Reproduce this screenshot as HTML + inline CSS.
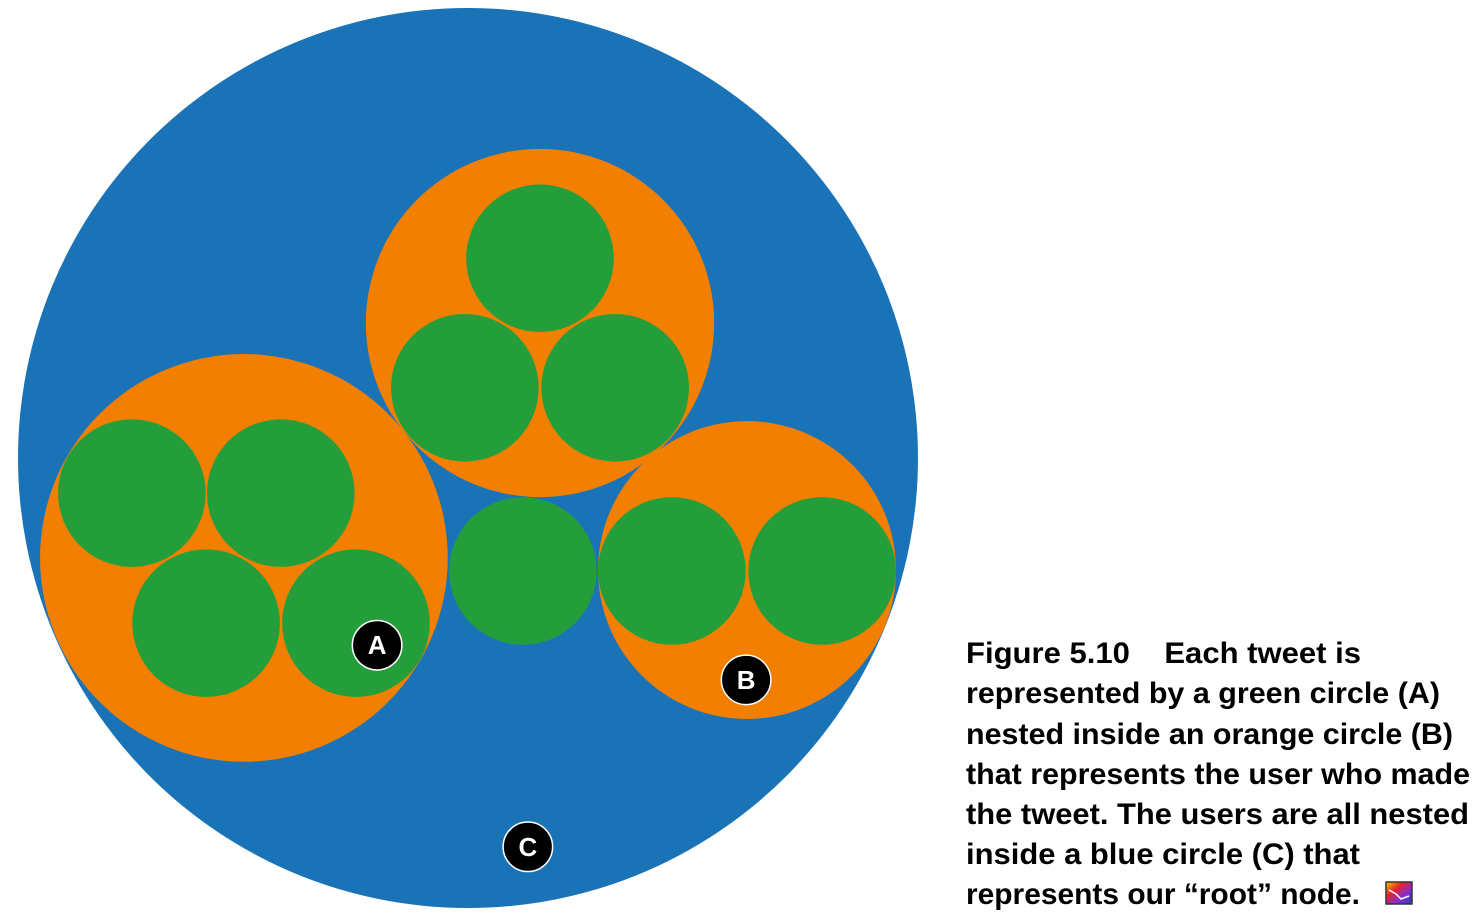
<!DOCTYPE html>
<html><head><meta charset="utf-8"><style>
html,body{margin:0;padding:0;background:#fff;width:1480px;height:924px;overflow:hidden}
svg{display:block}
text{white-space:pre}
</style></head><body>
<svg id="chart" width="1480" height="924">
<g id="circles"></g>
<g id="labels"></g>
<g font-family="'Liberation Sans', sans-serif" font-weight="bold" font-size="30" fill="#000">
<text x="966" y="663" textLength="395" lengthAdjust="spacingAndGlyphs" xml:space="preserve">Figure 5.10    Each tweet is</text>
<text x="966" y="703" textLength="474" lengthAdjust="spacingAndGlyphs">represented by a green circle (A)</text>
<text x="966" y="744" textLength="487" lengthAdjust="spacingAndGlyphs">nested inside an orange circle (B)</text>
<text x="966" y="784" textLength="504" lengthAdjust="spacingAndGlyphs">that represents the user who made</text>
<text x="966" y="824" textLength="503" lengthAdjust="spacingAndGlyphs">the tweet. The users are all nested</text>
<text x="966" y="864" textLength="394" lengthAdjust="spacingAndGlyphs">inside a blue circle (C) that</text>
<text x="966" y="904" textLength="394" lengthAdjust="spacingAndGlyphs">represents our “root” node.</text>
</g>
<g>
<defs><linearGradient id="rg" x1="0" y1="0" x2="1" y2="1"><stop offset="0" stop-color="#f5d000"/><stop offset="0.35" stop-color="#e8202a"/><stop offset="0.65" stop-color="#8a2bd0"/><stop offset="1" stop-color="#1a40c0"/></linearGradient></defs>
<rect x="1386" y="882" width="26" height="22" fill="url(#rg)" stroke="#333" stroke-width="1.5"/>
<polyline points="1389,890 1396,894 1401,899 1409,896" fill="none" stroke="#fff" stroke-width="1.5"/>
</g>
</svg>
<script>
// Pack layout output in data units (root centered at 0,0 with radius 100)
const rootCircle = [0, 0, 100];
const userX = [-49.8, 16, 62.0];
const userY = [22.2, -30, 24.9];
const userR = [45.3, 38.7, 33.1];
const tweetX = [-74.7, -41.6, -58.2, -24.9, 16, -0.7, 32.7, 12.2, 45.3, 78.7];
const tweetY = [7.8, 7.8, 36.7, 36.7, -44.4, -15.6, -15.6, 25.1, 25.1, 25.1];
const tweetR = [16.4, 16.4, 16.4, 16.4, 16.4, 16.4, 16.4, 16.4, 16.4, 16.4];
const labelNames = ['A', 'B', 'C'];
const labelX = [-20.2, 61.8, 13.3];
const labelY = [41.6, 49.3, 86.4];

const CX = 468, CY = 458, K = 4.5;
const sx = v => CX + v * K, sy = v => CY + v * K, sr = v => v * K;
const NS = 'http://www.w3.org/2000/svg';
const g = document.getElementById('circles');
function circ(parent, x, y, r, fill) {
  const c = document.createElementNS(NS, 'circle');
  c.setAttribute('cx', sx(x)); c.setAttribute('cy', sy(y)); c.setAttribute('r', sr(r));
  c.setAttribute('fill', fill);
  parent.appendChild(c);
  return c;
}
let c = circ(g, rootCircle[0], rootCircle[1], rootCircle[2], '#1b73b7');


userX.forEach((x, i) => {
  const u = circ(g, x, userY[i], userR[i], '#f27f00');
  
  
});
tweetX.forEach((x, i) => {
  const t = circ(g, x, tweetY[i], tweetR[i], '#239e3a');
  
  
});
const lg = document.getElementById('labels');
labelNames.forEach((n, i) => {
  const b = circ(lg, labelX[i], labelY[i], 5.5, '#000');
  b.setAttribute('stroke', '#fff'); b.setAttribute('stroke-width', '1.5');
  
  
  const t = document.createElementNS(NS, 'text');
  t.setAttribute('x', sx(labelX[i])); t.setAttribute('y', sy(labelY[i]) + 9);
  t.setAttribute('text-anchor', 'middle');
  t.setAttribute('font-family', "'Liberation Sans', sans-serif");
  t.setAttribute('font-weight', 'bold'); t.setAttribute('font-size', '26'); t.setAttribute('fill', '#fff');
  t.textContent = n;
  
  
  lg.appendChild(t);
});
</script>
</body></html>
